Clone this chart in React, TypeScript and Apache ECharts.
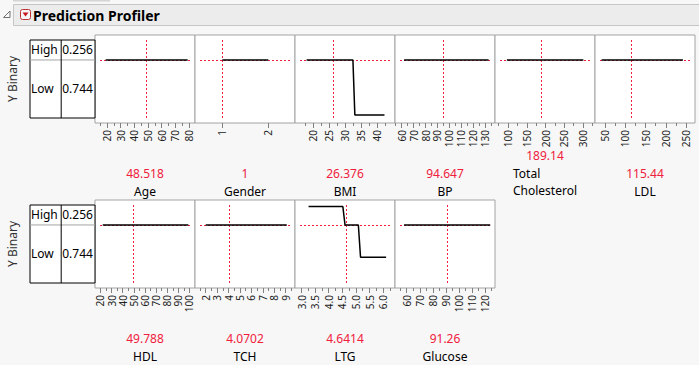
import React, { useEffect, useRef } from "react";
import * as echarts from "echarts";

// ---------------- data ----------------
const factorNames = ["Age", "Gender", "BMI", "BP", "Total\nCholesterol", "LDL", "HDL", "TCH", "LTG", "Glucose"];
const currentLabels = ["48.518", "1", "26.376", "94.647", "189.14", "115.44", "49.788", "4.0702", "4.6414", "91.26"];
const currentValues = currentLabels.map(Number);
const responseName = "Y Binary";
const responseLevels = ["High", "Low"];
const levelProbs = [0.256, 0.744];
const levelProbLabels = ["0.256", "0.744"];

// profile traces: [factor value, cumulative P(High)]
const ageProfile = [[19, 0.256], [79, 0.256]];
const genderProfile = [[1, 0.256], [2, 0.256]];
const bmiProfile = [[18, 0.256], [32.4, 0.256], [33.0, 0.96], [42.2, 0.96]];
const bpProfile = [[62, 0.256], [133, 0.256]];
const tcProfile = [[97, 0.256], [301, 0.256]];
const ldlProfile = [[41.6, 0.256], [242.4, 0.256]];
const hdlProfile = [[22, 0.256], [99, 0.256]];
const tchProfile = [[2, 0.256], [9.09, 0.256]];
const ltgProfile = [[3.26, 0.02], [4.52, 0.02], [4.6, 0.256], [5.09, 0.256], [5.17, 0.67], [6.11, 0.67]];
const gluProfile = [[58, 0.256], [124, 0.256]];
const profiles = [ageProfile, genderProfile, bmiProfile, bpProfile, tcProfile, ldlProfile, hdlProfile, tchProfile, ltgProfile, gluProfile];

// axis ranges (over full panel frame)
const axisMin = [11.22, 0.4065, 14.41, 54.37, 65.33, 25.3, 15.06, 1.064, 2.761, 51.03];
const axisMax = [84.37, 2.58, 45.47, 138.4, 332, 272.2, 104.95, 9.81, 6.437, 127.66];

// tick labels
const ageTicks = [20, 30, 40, 50, 60, 70, 80];
const genderTicks = [1, 2];
const bmiTicks = [20, 25, 30, 35, 40];
const bpTicks = [60, 70, 80, 90, 100, 110, 120, 130];
const tcTicks = [100, 150, 200, 250, 300];
const ldlTicks = [50, 100, 150, 200, 250];
const hdlTicks = [20, 30, 40, 50, 60, 70, 80, 90, 100];
const tchTicks = [2, 3, 4, 5, 6, 7, 8, 9];
const ltgTicks = [3.0, 3.5, 4.0, 4.5, 5.0, 5.5, 6.0];
const gluTicks = [60, 70, 80, 90, 100, 110, 120];
const majorTicks = [ageTicks, genderTicks, bmiTicks, bpTicks, tcTicks, ldlTicks, hdlTicks, tchTicks, ltgTicks, gluTicks];

const ageMinor = [15, 25, 35, 45, 55, 65, 75];
const genderMinor: number[] = [];
const bmiMinor = [17.5, 22.5, 27.5, 32.5, 37.5, 42.5];
const bpMinor = [55, 65, 75, 85, 95, 105, 115, 125, 135];
const tcMinor = [75, 125, 175, 225, 275, 325];
const ldlMinor = [75, 125, 175, 225];
const hdlMinor = [25, 35, 45, 55, 65, 75, 85, 95];
const tchMinor = [1.5, 2.5, 3.5, 4.5, 5.5, 6.5, 7.5, 8.5, 9.5];
const ltgMinor = [2.75, 3.25, 3.75, 4.25, 4.75, 5.25, 5.75, 6.25];
const gluMinor = [55, 65, 75, 85, 95, 105, 115, 125];
const minorTicks = [ageMinor, genderMinor, bmiMinor, bpMinor, tcMinor, ldlMinor, hdlMinor, tchMinor, ltgMinor, gluMinor];
const tickDecimals = [0, 0, 0, 0, 0, 0, 0, 0, 1, 0];

// ---------------- layout ----------------
const FONT = "'Noto Sans', 'Open Sans', sans-serif";
const PANEL_W = 100;
const PANEL_H = 88;
const INSET = 5;
const PANEL_LEFT0 = 95;
const ROW_TOPS = [35, 200];
const panelRow = [0, 0, 0, 0, 0, 0, 1, 1, 1, 1];
const panelCol = [0, 1, 2, 3, 4, 5, 0, 1, 2, 3];
const TABLE_LEFT = 30;
const TABLE_W = 65;
const RED = "#f0203c";

function buildOption() {
  const grid: any[] = [];
  const xAxis: any[] = [];
  const yAxis: any[] = [];
  const series: any[] = [];
  const graphic: any[] = [];

  // header
  graphic.push({ type: "rect", shape: { x: 13, y: 0, width: 97, height: 1.5 }, style: { fill: "#d4d4d4" } });
  graphic.push({ type: "rect", shape: { x: 13.5, y: 4.5, width: 690, height: 21 }, style: { fill: "#ececec", stroke: "#c6c6c6", lineWidth: 1 } });
  graphic.push({ type: "polygon", shape: { points: [[3.5, 17.5], [10, 17.5], [10, 11]] }, style: { fill: "#fafafa", stroke: "#707070", lineWidth: 1 } });
  graphic.push({ type: "rect", shape: { x: 20.5, y: 9.5, width: 10, height: 10, r: 2 }, style: { fill: "#f6f6f6", stroke: "#b33", lineWidth: 1 } });
  graphic.push({ type: "polygon", shape: { points: [[22.5, 12.5], [28.5, 12.5], [25.5, 16.5]] }, style: { fill: "#c8161e" } });
  graphic.push({
    type: "text", x: 33, y: 15,
    style: { text: "Prediction Profiler", fontSize: 14, fontWeight: "bold", fontFamily: FONT, fill: "#000", align: "left", verticalAlign: "middle", textAlign: "left", textVerticalAlign: "middle" },
  });

  for (let i = 0; i < 10; i++) {
    const left = PANEL_LEFT0 + PANEL_W * panelCol[i];
    const top = ROW_TOPS[panelRow[i]];
    const span = axisMax[i] - axisMin[i];
    const innerMin = axisMin[i] + span * INSET / PANEL_W;
    const innerMax = axisMax[i] - span * INSET / PANEL_W;
    const gOuter = grid.length;
    grid.push({ left, top, width: PANEL_W, height: PANEL_H, show: true, backgroundColor: "#fff", borderColor: "#a3a3a3", borderWidth: 1, containLabel: false });
    const gInner = grid.length;
    grid.push({ left: left + INSET, top: top + INSET, width: PANEL_W - 2 * INSET, height: PANEL_H - 2 * INSET, show: false, containLabel: false });

    const dec = tickDecimals[i];
    xAxis.push({
      gridIndex: gOuter, type: "value", position: "bottom", min: axisMin[i], max: axisMax[i],
      axisLine: { show: false }, splitLine: { show: false },
      axisTick: { show: true, length: 5, customValues: majorTicks[i], lineStyle: { color: "#808080", width: 1 } },
      axisLabel: {
        show: true, customValues: majorTicks[i], rotate: 90, margin: 7, fontSize: 10, fontFamily: FONT, color: "#222",
        formatter: (v: number) => v.toFixed(dec),
      },
    });
    xAxis.push({
      gridIndex: gOuter, type: "value", position: "bottom", min: axisMin[i], max: axisMax[i],
      axisLine: { show: false }, splitLine: { show: false },
      axisTick: { show: minorTicks[i].length > 0, length: 3, customValues: minorTicks[i], lineStyle: { color: "#808080", width: 1 } },
      axisLabel: { show: false },
    });
    const xInner = xAxis.length;
    xAxis.push({ gridIndex: gInner, type: "value", min: innerMin, max: innerMax, show: false });
    yAxis.push({ gridIndex: gOuter, type: "value", min: 0, max: 1, show: false });
    const yInner = yAxis.length;
    yAxis.push({ gridIndex: gInner, type: "value", min: 0, max: 1, inverse: true, show: false });

    // reference (current setting) lines, drawn beneath the profile
    series.push({
      type: "line", xAxisIndex: xInner, yAxisIndex: yInner, silent: true, symbol: "none", z: 2,
      data: [], lineStyle: { color: RED },
      markLine: {
        z: 2, silent: true, symbol: ["none", "none"], animation: false,
        label: { show: false },
        lineStyle: { color: RED, width: 1, type: [2, 2], opacity: 1 },
        emphasis: { disabled: true },
        data: [{ yAxis: levelProbs[0] }, { xAxis: currentValues[i] }],
      },
    });
    series.push({
      type: "line", xAxisIndex: xInner, yAxisIndex: yInner, silent: true, symbol: "none", z: 4, color: "#000",
      data: profiles[i], lineStyle: { color: "#000", width: 1.5 },
    });

    // value + factor name
    const cx = left + PANEL_W / 2;
    const bottom = top + PANEL_H;
    const isTwoLine = factorNames[i].includes("\n");
    graphic.push({
      type: "text", x: cx, y: bottom + (isTwoLine ? 32 : 50),
      style: { text: currentLabels[i], fontSize: 12, fontFamily: FONT, fill: RED, align: "center", verticalAlign: "middle", textAlign: "center", textVerticalAlign: "middle" },
    });
    if (isTwoLine) {
      graphic.push({
        type: "text", x: cx - 32, y: bottom + 59,
        style: { text: factorNames[i], fontSize: 12, lineHeight: 17, fontFamily: FONT, fill: "#000", align: "left", verticalAlign: "middle", textAlign: "left", textVerticalAlign: "middle" },
      });
    } else {
      graphic.push({
        type: "text", x: cx, y: bottom + 68,
        style: { text: factorNames[i], fontSize: 12, fontFamily: FONT, fill: "#000", align: "center", verticalAlign: "middle", textAlign: "center", textVerticalAlign: "middle" },
      });
    }
  }

  // response tables
  for (let r = 0; r < 2; r++) {
    const top = ROW_TOPS[r] + INSET;
    const h = PANEL_H - 2 * INSET;
    const g = grid.length;
    grid.push({ left: TABLE_LEFT, top, width: TABLE_W, height: h, show: true, backgroundColor: "#fff", borderColor: "#000", borderWidth: 1, containLabel: false });
    const xi = xAxis.length;
    xAxis.push({ gridIndex: g, type: "value", min: 0, max: 1, show: false });
    const yi = yAxis.length;
    yAxis.push({ gridIndex: g, type: "value", min: 0, max: 1, inverse: true, show: false });
    series.push({
      type: "line", xAxisIndex: xi, yAxisIndex: yi, silent: true, symbol: "none", color: "#a3a3a3",
      data: [[0, levelProbs[0]], [1, levelProbs[0]]], lineStyle: { color: "#a3a3a3", width: 1 },
    });
    series.push({
      type: "line", xAxisIndex: xi, yAxisIndex: yi, silent: true, symbol: "none", color: "#000",
      data: [[0.48, 0], [0.48, 1]], lineStyle: { color: "#000", width: 1 },
    });
    let cum = 0;
    const pts: any[] = [];
    for (let k = 0; k < responseLevels.length; k++) {
      const mid = cum + levelProbs[k] / 2;
      cum += levelProbs[k];
      pts.push({ value: [0.0, mid], label: { formatter: responseLevels[k] } });
      pts.push({ value: [0.48, mid], label: { formatter: levelProbLabels[k] } });
    }
    series.push({
      type: "scatter", xAxisIndex: xi, yAxisIndex: yi, silent: true, symbolSize: 0, z: 5,
      itemStyle: { color: "rgba(0,0,0,0)" },
      label: { show: true, position: "right", distance: 1, fontSize: 12, fontFamily: FONT, color: "#000", opacity: 1 },
      data: pts,
    });
    graphic.push({
      type: "text", x: 12, y: top + h / 2, rotation: Math.PI / 2,
      style: { text: responseName, fontSize: 12, fontFamily: FONT, fill: "#333", align: "center", verticalAlign: "middle", textAlign: "center", textVerticalAlign: "middle" },
    });
  }

  return { animation: false, backgroundColor: "#f7f7f7", grid, xAxis, yAxis, series, graphic };
}

export default function App() {
  const ref = useRef<HTMLDivElement>(null);
  useEffect(() => {
    document.body.style.margin = "0";
    const chart = echarts.init(ref.current!, null, { renderer: "svg" });
    chart.setOption(buildOption() as any);
    return () => chart.dispose();
  }, []);
  return <div ref={ref} style={{ width: 699, height: 365 }} />;
}
